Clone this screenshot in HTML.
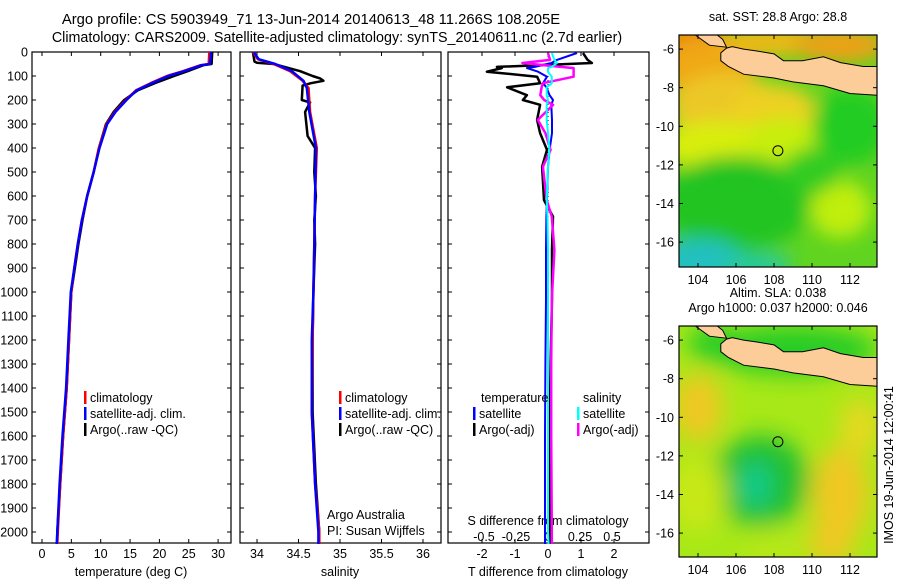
<!DOCTYPE html>
<html><head><meta charset="utf-8"><style>
html,body{margin:0;padding:0;background:#fff;}
svg{display:block;font-family:"Liberation Sans",sans-serif;}
</style></head><body>
<svg id="fig" width="900" height="580" viewBox="0 0 900 580" xmlns="http://www.w3.org/2000/svg">
<defs>
<filter id="blur1" x="-50%" y="-50%" width="200%" height="200%"><feGaussianBlur stdDeviation="12"/></filter>
<filter id="blur2" x="-50%" y="-50%" width="200%" height="200%"><feGaussianBlur stdDeviation="9"/></filter>
<clipPath id="cm1"><rect x="679" y="35" width="198" height="232"/></clipPath>
<clipPath id="cm2"><rect x="679" y="326" width="198" height="231"/></clipPath>
</defs>
<text x="311" y="24" text-anchor="middle" font-size="14.8">Argo profile: CS 5903949_71 13-Jun-2014 20140613_48 11.266S 108.205E</text>
<text x="337" y="42" text-anchor="middle" font-size="14.3">Climatology: CARS2009. Satellite-adjusted climatology: synTS_20140611.nc (2.7d earlier)</text>
<g id="panels"></g>
<g id="maps"></g>
<text transform="translate(893,465) rotate(-90)" text-anchor="middle" font-size="12.5">IMOS 19-Jun-2014 12:00:41</text>
</svg>
<script>
// ---- data (depth in dbar) ----
const tDepth=[0,50,55,80,100,130,160,200,250,300,400,500,600,700,800,900,1000,1200,1400,1600,1800,2000,2050];
const tClim=[28.5,28.4,27,24,21.3,18.5,16,14.3,12.4,11,9.7,8.8,7.7,6.8,6.1,5.5,5.0,4.6,4.2,3.6,3.1,2.7,2.6];
const tSat=[28.8,28.6,27.2,24.2,21.5,18.7,16.1,14.4,12.5,11.1,9.8,8.8,7.7,6.8,6.1,5.5,4.9,4.5,4.1,3.5,3.0,2.6,2.5];
const tArgo=[29.0,28.9,27.5,24.8,22.5,19.2,16.3,14.0,12.2,10.9,9.7,8.8,7.7,6.9,6.2,5.6,5.0,4.6,4.2,3.6,3.1,2.6];
const tArgoDepth=[0,50,55,80,100,130,160,200,250,300,400,500,600,700,800,900,1000,1200,1400,1600,1800,2000];
const sDepth=[0,30,50,80,120,150,250,400,600,800,1000,1200,1500,1800,2000,2050];
const sClim=[33.95,34.01,34.2,34.4,34.55,34.62,34.64,34.72,34.70,34.69,34.68,34.67,34.66,34.70,34.75,34.75];
const sSat=[33.96,34.02,34.22,34.42,34.56,34.6,34.63,34.71,34.70,34.69,34.68,34.66,34.66,34.70,34.74,34.74];
const sArgoDepth=[0,40,45,50,80,100,110,120,130,140,200,210,250,350,400,500,600,700,800,1000,1200,1500,1800,2000];
const sArgo=[33.95,33.97,34.0,34.2,34.52,34.67,34.76,34.8,34.65,34.55,34.54,34.64,34.58,34.61,34.70,34.69,34.71,34.69,34.70,34.68,34.67,34.67,34.71,34.75];
const dDepth=[4,33,46,62,67,82,103,130,147,180,200,220,283,338,408,478,617,686,825,1033,1300,1600,2000,2050];
const dTArgo=[1.06,1.2,1.33,-1.55,-1.4,-1.85,-0.33,-0.24,-1.24,-0.64,-0.76,-0.24,-0.33,-0.24,-0.03,-0.18,-0.12,0.15,0.12,0.12,0.08,0.05,0.06,0.06];
const dTSat=[0.88,0.27,0.1,-0.4,-0.64,-0.3,-0.03,-0.15,-0.05,0.05,0.15,0.1,0.12,0.12,0.05,0,-0.03,-0.05,-0.06,-0.06,-0.08,-0.09,-0.09,-0.09];
const dSArgo=[0.0,0.016,-0.2,0.1,0.2,0.2,0.2,-0.04,-0.05,-0.06,-0.03,0.04,-0.08,-0.02,0.02,-0.04,-0.01,0.03,0.05,0.03,0.025,0.025,0.03,0.03];
const dSSat=[0.03,0.05,0.07,0.03,0,0.0,0.03,0.03,-0.01,-0.01,0,-0.01,-0.01,0,0.01,0,-0.01,-0.005,0,0,0,0,0,0.005];
const depthTicks=[0,100,200,300,400,500,600,700,800,900,1000,1100,1200,1300,1400,1500,1600,1700,1800,1900,2000];
const tTicks=[0,5,10,15,20,25,30];
const salTicks=[34,34.5,35,35.5,36];
const dTTicks=[-2,-1,0,1,2];
const dSTicks=[-0.5,-0.25,0,0.25,0.5];
const lonTicks=[104,106,108,110,112];
const latTicks=[-6,-8,-10,-12,-14,-16];

const NS="http://www.w3.org/2000/svg";
function el(tag,attrs,parent,txt){const e=document.createElementNS(NS,tag);for(const k in attrs)e.setAttribute(k,attrs[k]);if(txt!==undefined)e.textContent=txt;parent.appendChild(e);return e;}
const P=document.getElementById('panels');
const yTop=52,yBot=543;
const yD=d=>yTop+d*0.24;
const xT=v=>42+v*5.87;
const xS=v=>257+(v-34)*83;
const xDT=v=>548+v*33;
const xDS=v=>548+v*128;
const FS=12.5;

function frame(x0,x1,name){const r=el('rect',{x:x0,y:yTop,width:x1-x0,height:yBot-yTop,fill:'none',stroke:'#000','stroke-width':1.2},P);}
frame(32,231,'temperature-panel');frame(240,441,'salinity-panel');frame(448,649,'difference-panel');
depthTicks.forEach(d=>{
  const t=el('text',{x:28,y:yD(d)+4.5,'text-anchor':'end','font-size':FS},P,String(d));
  
  
  [[32,36],[227,231],[240,244],[437,441],[448,452],[645,649]].forEach(a=>el('line',{x1:a[0],x2:a[1],y1:yD(d),y2:yD(d),stroke:'#000'},P));
});
function xticks(vals,fx,y,name){vals.forEach(v=>{const x=fx(v);
  el('line',{x1:x,x2:x,y1:yTop,y2:yTop+4,stroke:'#000'},P);el('line',{x1:x,x2:x,y1:yBot,y2:yBot-4,stroke:'#000'},P);
  const t=el('text',{x:x,y:y,'text-anchor':'middle','font-size':FS},P,String(v));
  
  });}
xticks(tTicks,xT,558,'temperature-tick-label');
xticks(salTicks,xS,558,'salinity-tick-label');
xticks(dTTicks,xDT,558,'t-diff-tick-label');
dSTicks.forEach(v=>{const t=el('text',{x:xDS(v),y:541,'text-anchor':'middle','font-size':FS},P,String(v));
  
  });
function lbl(x,y,s,name,anchor,size){const t=el('text',{x:x,y:y,'text-anchor':anchor||'start','font-size':size||FS},P,s);
  
  }
lbl(131,576,'temperature (deg C)','x-axis-title-temperature','middle');
lbl(340,576,'salinity','x-axis-title-salinity','middle');
lbl(548,576,'T difference from climatology','x-axis-title-t-diff','middle');
lbl(548,525,'S difference from climatology','s-diff-axis-title','middle');
lbl(327,519,'Argo Australia','institution-label');
lbl(327,535,'PI: Susan Wijffels','pi-label');
el('line',{x1:548,x2:548,y1:yTop,y2:yBot,stroke:'#000','stroke-dasharray':'1,3'},P);

function line(xs,ds,fx,color,w,name){const pts=xs.map((v,i)=>fx(v).toFixed(1)+','+yD(ds[i]).toFixed(1)).join(' ');
  const p=el('polyline',{points:pts,fill:'none',stroke:color,'stroke-width':w,'stroke-linejoin':'round'},P);
  
  }
line(tArgo,tArgoDepth,xT,'#000',2.5,'temperature-argo-line');
line(tClim,tDepth,xT,'#f00',2.5,'temperature-climatology-line');
line(tSat,tDepth,xT,'#00f',2.5,'temperature-satellite-line');
line(sArgo,sArgoDepth,xS,'#000',2.5,'salinity-argo-line');
line(sClim,sDepth,xS,'#f00',2.5,'salinity-climatology-line');
line(sSat,sDepth,xS,'#00f',2.5,'salinity-satellite-line');
line(dTArgo,dDepth,xDT,'#000',2.5,'t-diff-argo-line');
line(dTSat,dDepth,xDT,'#00f',2,'t-diff-satellite-line');
line(dSArgo,dDepth,xDS,'#f0f',2.5,'s-diff-argo-line');
line(dSSat,dDepth,xDS,'#0ff',2,'s-diff-satellite-line');

function leg(x,y,color,s,name){el('rect',{x:x,y:y-6,width:2.5,height:13,fill:color},P);
  const t=el('text',{x:x+6,y:y+5,'font-size':FS},P,s);
  
  }
leg(84,397,'#f00','climatology','legend-climatology');leg(84,413,'#00f','satellite-adj. clim.','legend-satellite-adj');leg(84,429,'#000','Argo(..raw -QC)','legend-argo');
leg(339,397,'#f00','climatology','legend-climatology-2');leg(339,413,'#00f','satellite-adj. clim.','legend-satellite-adj-2');leg(339,429,'#000','Argo(..raw -QC)','legend-argo-2');
lbl(481,402,'temperature','legend-header-temperature');lbl(583,402,'salinity','legend-header-salinity');
leg(473,413,'#00f','satellite','legend-t-satellite');leg(473,429,'#000','Argo(-adj)','legend-t-argo');
leg(577,413,'#0ff','satellite','legend-s-satellite');leg(577,429,'#f0f','Argo(-adj)','legend-s-argo');

// ---- maps ----
const M=document.getElementById('maps');
const landLon=[105.2,105.5,105.8,106.4,107.1,108,108.5,109.5,110.6,111.5,112.7,113.5,113.5,112,110.6,109,108,106.4,105.6,105.2];
const landLat=[-6.2,-5.95,-5.87,-6.0,-6.1,-6.25,-6.6,-6.6,-6.4,-6.7,-6.9,-6.9,-8.4,-8.3,-7.9,-7.7,-7.5,-7.3,-6.9,-6.6];
const sumLon=[104.0,104.8,105.3,105.5,104.6,103.9];
const sumLat=[-5.0,-5.1,-5.5,-5.9,-5.8,-5.3];
function makeMap(x0,y0,h,clip,title,blobs,base,name){
  const g=el('g',{'clip-path':'url(#'+clip+')'},M);
  
  
  const fx=lon=>x0+(lon-103)*19.0, fy=lat=>y0+(-5.27-lat)*19.3;
  el('rect',{x:x0,y:y0,width:198,height:h,fill:base},g);
  const bg=el('g',{filter:'url(#'+(clip=='cm1'?'blur2':'blur1')+')'},g);
  blobs.forEach(b=>el('ellipse',{cx:fx(b[0]),cy:fy(b[1]),rx:b[2]*19,ry:b[3]*19,fill:b[4]},bg));
  const pts=landLon.map((v,i)=>fx(v).toFixed(1)+','+fy(landLat[i]).toFixed(1)).join(' ');
  const land=el('polygon',{points:pts,fill:'#fccc99',stroke:'#000','stroke-width':1},g);
  
  
  const pts2=sumLon.map((v,i)=>fx(v).toFixed(1)+','+fy(sumLat[i]).toFixed(1)).join(' ');
  const s=el('polygon',{points:pts2,fill:'#fccc99',stroke:'#000','stroke-width':1},g);
  
  
  const c=el('circle',{cx:fx(108.205),cy:fy(-11.266),r:5,fill:'none',stroke:'#000','stroke-width':1},g);
  
  
  el('rect',{x:x0,y:y0,width:198,height:h,fill:'none',stroke:'#000','stroke-width':1.2},M);
  lonTicks.forEach(l=>{const x=fx(l);el('line',{x1:x,x2:x,y1:y0,y2:y0+4,stroke:'#000'},M);el('line',{x1:x,x2:x,y1:y0+h,y2:y0+h-4,stroke:'#000'},M);
    const t=el('text',{x:x,y:y0+h+17,'text-anchor':'middle','font-size':FS},M,String(l));
    
    });
  latTicks.forEach(l=>{const y=fy(l);el('line',{x1:x0,x2:x0+4,y1:y,y2:y,stroke:'#000'},M);el('line',{x1:x0+198,x2:x0+194,y1:y,y2:y,stroke:'#000'},M);
    const t=el('text',{x:x0-5,y:y+4.5,'text-anchor':'end','font-size':FS},M,String(l));
    
    });
  title.forEach((s,i)=>{const t=el('text',{x:778,y:y0-14-(title.length-1-i)*15,'text-anchor':'middle','font-size':FS},M,s);
    
    });
}
makeMap(679,35,232,'cm1',['sat. SST: 28.8 Argo: 28.8'],[
 [103.5,-5.5,2,1.2,'#e88a08'],[104.5,-7,2.5,1.6,'#f0a818'],[108,-5.6,3,0.8,'#f0b818'],[111.5,-5.8,2.5,0.9,'#f0a018'],
 [105.5,-9,3,1.8,'#ecc828'],[108,-9.2,2.2,1.4,'#eed020'],[105,-11,3,1.3,'#d8ee10'],[108.5,-10.8,2,1.3,'#c8ee10'],
 [112,-10,2,2,'#22cc22'],[106,-14,4,2.5,'#20c420'],[111.5,-14.3,1.6,1.5,'#c0ee10'],
 [104,-17,2.5,1.2,'#20c0c0'],[107,-17.2,2,0.6,'#22c8a8'],[110,-12.3,1.5,1.2,'#30cc20']
],'#60d420','sst-map');
makeMap(679,326,231,'cm2',['Altim. SLA: 0.038','Argo h1000: 0.037 h2000: 0.046'],[
 [104,-9.5,1.3,1.8,'#f0c820'],[111.5,-14,1.5,2.5,'#f0c820'],[111,-16.5,1.2,1.2,'#f0c820'],[112.5,-10.5,1,1.5,'#e8d820'],
 [107.3,-13.3,2.6,2.4,'#20c030'],[107,-13.5,0.8,1.2,'#10cc90'],[109,-6.5,4.5,1.3,'#28cc28'],[104.8,-6.2,1.3,1,'#28cc28'],[104,-14,1.5,2,'#c8e818'],[108,-16.8,1.5,1,'#b8e818']
],'#a8e818','sla-map');
</script>
</body></html>
